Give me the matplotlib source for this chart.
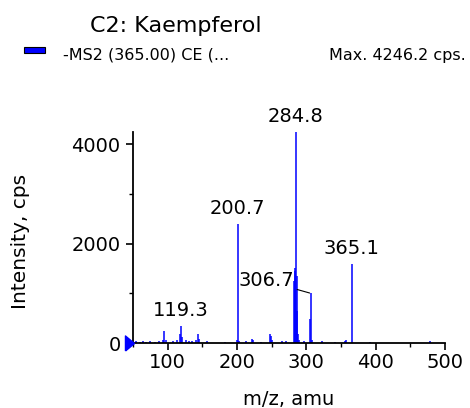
import matplotlib.pyplot as plt
from matplotlib.patches import Rectangle
from matplotlib.ticker import MultipleLocator

# peak list (m/z, intensity in cps)
mz = [55, 60, 64, 69, 75, 81, 87, 93, 95.2, 97, 107, 113, 117.2, 119.3, 121, 127, 131, 135,
      141, 143.1, 145, 157, 183, 199.4, 200.7, 203, 213, 221.9, 223, 235, 247.8, 249.2,
      251, 265, 271, 281.9, 282.9, 283.8, 284.8, 285.8, 286.8, 287.6, 289, 297,
      305.6, 306.7, 308, 322.9, 341, 355.4, 357, 365.1, 392, 477.8]
intensity = [40, 30, 35, 30, 40, 30, 35, 60, 250, 60, 40, 60, 180, 350, 120, 60, 50, 40,
             70, 190, 80, 40, 30, 60, 2400, 50, 40, 80, 60, 30, 190, 150,
             60, 40, 50, 1250, 1450, 1520, 4246, 1350, 650, 180, 60, 40,
             480, 1000, 60, 50, 30, 40, 60, 1600, 25, 45]

labels = [("119.3", 119.3, 350), ("200.7", 200.7, 2400), ("284.8", 284.8, 4246),
          ("365.1", 365.1, 1600)]

x_ticks = [100, 200, 300, 400, 500]
y_ticks = [0, 2000, 4000]

blue = "#0000ff"
plt.rcParams["font.family"] = "DejaVu Sans"

fig = plt.figure(figsize=(4.7, 4.08), dpi=100)
ax = fig.add_axes([0.283, 0.159, 0.664, 0.518])

ax.vlines(mz, 0, intensity, color=blue, linewidth=1.1)
# start marker: tall narrow triangle with its tip on the axis
tri = [(-1.2, -1.0), (0, 0), (-1.2, 1.0), (-1.2, -1.0)]
ax.plot([51.5], [0], marker=tri, color=blue, markersize=13, clip_on=False, zorder=5)

for txt, x, y in labels:
    ax.annotate(txt, (x, y), xytext=(0, 4), textcoords="offset points",
                ha="center", va="bottom", fontsize=14)
ax.annotate("306.7", (306.7, 1000), xytext=(-12, 9), textcoords="offset points",
            ha="right", va="center", fontsize=14,
            arrowprops=dict(arrowstyle="-", color="black", lw=0.8,
                            shrinkA=0, shrinkB=1))

ax.set_xlim(50, 500)
ax.set_ylim(0, 4250)
ax.set_xticks(x_ticks)
ax.set_yticks(y_ticks)
ax.xaxis.set_minor_locator(MultipleLocator(50))
ax.yaxis.set_minor_locator(MultipleLocator(1000))
ax.tick_params(which="major", length=5, width=1.2, labelsize=14, direction="out")
ax.tick_params(which="minor", length=3, width=1.0, direction="out")
ax.tick_params(axis="x", pad=2)
ax.tick_params(axis="y", pad=4)

for side in ("top", "right"):
    ax.spines[side].set_visible(False)
for side in ("left", "bottom"):
    ax.spines[side].set_linewidth(1.3)

ax.set_xlabel("m/z, amu", fontsize=14, labelpad=13)
ax.set_ylabel("Intensity, cps", fontsize=14.5)
ax.yaxis.set_label_coords(-0.33, 0.483)

fig.text(0.375, 0.937, "C2: Kaempferol", fontsize=16, ha="center", va="center")
fig.patches.append(Rectangle((0.051, 0.870), 0.045, 0.015, transform=fig.transFigure,
                             facecolor=blue, edgecolor="black", linewidth=0.8))
fig.text(0.133, 0.865, "-MS2 (365.00) CE (...", fontsize=11.5, ha="left", va="center")
fig.text(0.99, 0.865, "Max. 4246.2 cps.", fontsize=11.5, ha="right", va="center")

fig.savefig("out.png", dpi=100)
